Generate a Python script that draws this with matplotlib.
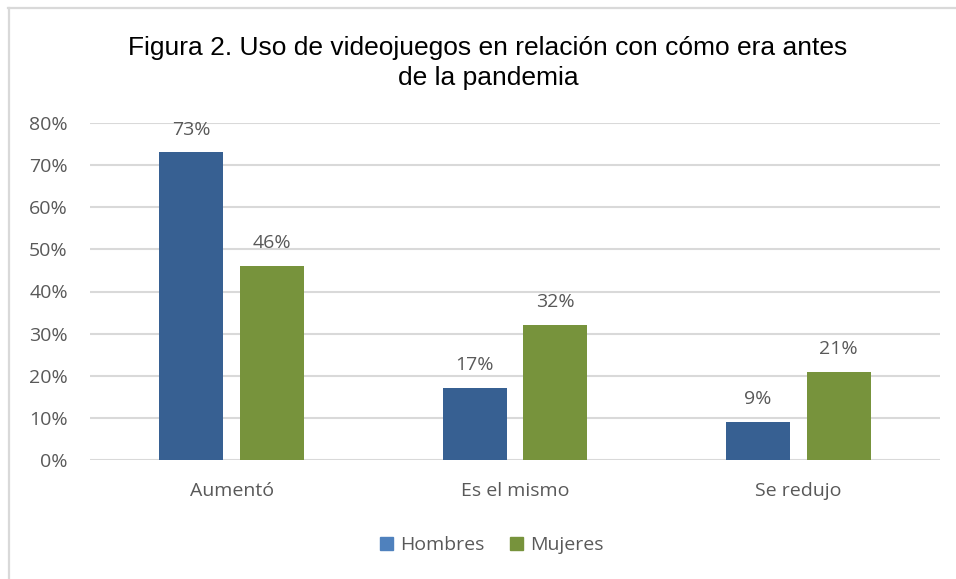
import numpy as np
import matplotlib as mpl
mpl.use('Agg')
import matplotlib.pyplot as plt
import matplotlib.patches as mpatches
import matplotlib.lines as mlines

# Data
categories = ['Aumentó', 'Es el mismo', 'Se redujo']
series = ['Hombres', 'Mujeres']
hombres = [73, 17, 9]
mujeres = [46, 32, 21]
yticks = [0, 10, 20, 30, 40, 50, 60, 70, 80]

bar_colors = ['#376092', '#77933C']
legend_colors = ['#4F81BD', '#77933C']
text_color = '#595959'
grid_color = '#D9D9D9'
fs = 14

plt.rcParams['font.family'] = ['Open Sans', 'DejaVu Sans']

fig = plt.figure(figsize=(9.56, 5.79), dpi=100)
ax = fig.add_axes([90/956, 119/579, 850/956, 337/579])

x = np.arange(len(categories))
w = 0.226
off = 0.142
for vals, dx, color in [(hombres, -off, bar_colors[0]), (mujeres, off, bar_colors[1])]:
    bars = ax.bar(x + dx, vals, width=w, color=color, zorder=3)
    for b, v in zip(bars, vals):
        ax.annotate('{}%'.format(v), (b.get_x() + b.get_width()/2, v),
                    xytext=(0, 10), textcoords='offset points',
                    ha='center', va='bottom', fontsize=fs, color=text_color)

# Axes styling
ax.set_xlim(-0.5, 2.5)
ax.set_ylim(0, 80)
ax.set_yticks(yticks)
ax.set_yticklabels(['{}%'.format(t) for t in yticks])
ax.set_xticks(x)
ax.set_xticklabels(categories)
ax.grid(axis='y', color=grid_color, linewidth=1.5, zorder=0)
for s in ax.spines.values():
    s.set_visible(False)
ax.tick_params(axis='both', length=0, labelsize=fs, labelcolor=text_color)
ax.tick_params(axis='y', pad=16)
ax.tick_params(axis='x', pad=16)

# Title
fig.text(488/956, 1 - 63/579,
         'Figura 2. Uso de videojuegos en relación con cómo era antes\nde la pandemia',
         ha='center', va='center', multialignment='center',
         fontsize=19, family='Liberation Sans', color='black', linespacing=1.3)

# Legend
handles = [mpatches.Patch(color=c, label=l) for c, l in zip(legend_colors, series)]
fig.legend(handles=handles, loc='center', bbox_to_anchor=(492/956, 1 - 545/579),
           ncol=2, frameon=False, fontsize=fs, labelcolor=text_color,
           handlelength=0.65, handleheight=0.65, handletextpad=0.4, columnspacing=1.3)

# Chart area border (top and left edges)
fig.add_artist(mlines.Line2D([8/956, 1], [1 - 7.5/579, 1 - 7.5/579],
                             transform=fig.transFigure, color=grid_color, linewidth=1.6))
fig.add_artist(mlines.Line2D([9/956, 9/956], [0, 1 - 7.5/579],
                             transform=fig.transFigure, color=grid_color, linewidth=1.6))

fig.savefig('out.png', dpi=100)
